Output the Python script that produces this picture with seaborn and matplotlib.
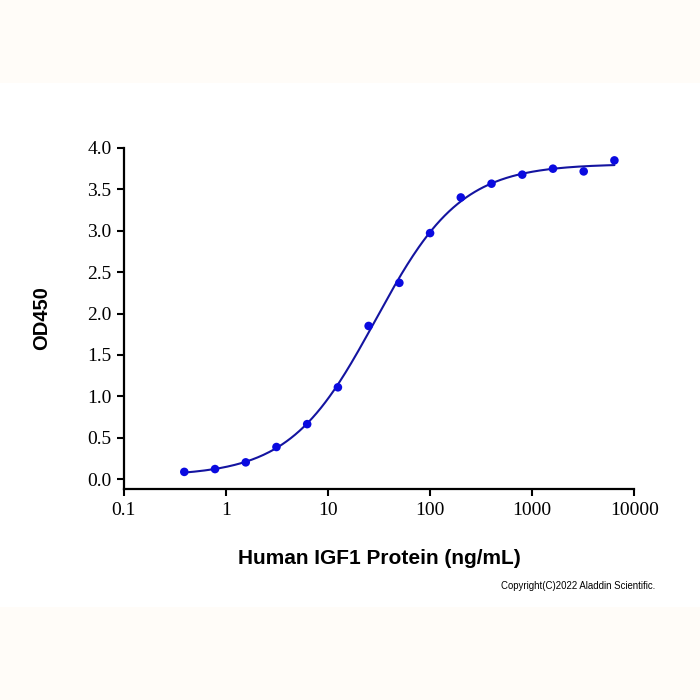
import numpy as np
import pandas as pd
import matplotlib
matplotlib.use('Agg')
import matplotlib.pyplot as plt
from matplotlib.patches import Rectangle
import seaborn as sns

# two-fold dilution series of IGF1 (ng/mL) and measured OD450
concentration = [0.390625, 0.78125, 1.5625, 3.125, 6.25, 12.5, 25, 50,
                 100, 200, 400, 800, 1600, 3200, 6400]
od450 = [0.09, 0.124, 0.205, 0.39, 0.666, 1.11, 1.85, 2.37,
         2.97, 3.40, 3.566, 3.675, 3.747, 3.714, 3.847]
x_ticks = [0.1, 1, 10, 100, 1000, 10000]
x_tick_labels = ['0.1', '1', '10', '100', '1000', '10000']
y_ticks = [0.0, 0.5, 1.0, 1.5, 2.0, 2.5, 3.0, 3.5, 4.0]

points = pd.DataFrame({'conc': concentration, 'od': od450})


# 4-parameter logistic fit: grid over (logEC50, hill), linear solve for bottom/top
def fit_4pl(x, y):
    lx = np.log10(x)
    best = None
    for lec in np.linspace(0.5, 2.5, 401):
        for hill in np.linspace(0.5, 2.0, 301):
            s = 1.0 / (1.0 + 10 ** ((lec - lx) * hill))
            A = np.column_stack([1 - s, s])
            coef, *_ = np.linalg.lstsq(A, y, rcond=None)
            err = np.sum((A @ coef - y) ** 2)
            if best is None or err < best[0]:
                best = (err, lec, hill, coef[0], coef[1])
    return best[1:]


lec, hill, bottom, top = fit_4pl(np.array(concentration), np.array(od450))
xs = np.logspace(np.log10(min(concentration)), np.log10(max(concentration)), 300)
curve = pd.DataFrame({'conc': xs,
                      'od': bottom + (top - bottom) / (1 + 10 ** ((lec - np.log10(xs)) * hill))})

sns.set_style("ticks")
plt.rcParams['axes.linewidth'] = 1.6
plt.rcParams['text.color'] = 'black'
plt.rcParams['axes.labelcolor'] = 'black'
plt.rcParams['xtick.color'] = 'black'
plt.rcParams['ytick.color'] = 'black'
plt.rcParams['axes.edgecolor'] = 'black'

fig = plt.figure(figsize=(7, 7), dpi=100)
fig.patch.set_facecolor('white')
fig.patches.append(Rectangle((0, 1 - 83 / 700), 1, 83 / 700, transform=fig.transFigure,
                             facecolor='#fffcf8', edgecolor='none', zorder=-10))
fig.patches.append(Rectangle((0, 0), 1, 93 / 700, transform=fig.transFigure,
                             facecolor='#fffcf8', edgecolor='none', zorder=-10))

ax = fig.add_axes([0.177, 0.301, 0.729, 0.488])
ax.set_facecolor('none')

sns.lineplot(data=curve, x='conc', y='od', ax=ax, color='#1414a0', linewidth=1.5)
sns.scatterplot(data=points, x='conc', y='od', ax=ax, color='#0a0ae0', s=38,
                edgecolor='none', zorder=5)

ax.set_xscale('log')
ax.set_xlim(0.1, 10000)
ax.set_ylim(-0.12, 4.0)
ax.set_xticks(x_ticks)
ax.set_xticklabels(x_tick_labels)
ax.xaxis.set_minor_locator(matplotlib.ticker.NullLocator())
ax.set_yticks(y_ticks)
ax.set_yticklabels([f'{v:.1f}' for v in y_ticks])
ax.tick_params(axis='both', which='major', length=5, width=1.5, color='black',
               labelcolor='black', labelsize=14, pad=4)
for lab in ax.get_xticklabels() + ax.get_yticklabels():
    lab.set_family(['Liberation Serif', 'DejaVu Serif'])
ax.spines['top'].set_visible(False)
ax.spines['right'].set_visible(False)
ax.spines['left'].set_bounds(-0.12, 4.0)

ax.set_xlabel('Human IGF1 Protein (ng/mL)', fontsize=15, fontweight='bold', color='black',
              family=['Liberation Sans', 'DejaVu Sans'], labelpad=22)
ax.set_ylabel('OD450', fontsize=14.5, fontweight='bold', color='black',
              family=['Liberation Sans', 'DejaVu Sans'], labelpad=26)

fig.text(0.936, 0.163, 'Copyright(C)2022 Aladdin Scientific.', ha='right', va='center',
         fontsize=6.9, family=['Liberation Sans', 'DejaVu Sans'], color='black')

fig.savefig('out.png', dpi=100)
